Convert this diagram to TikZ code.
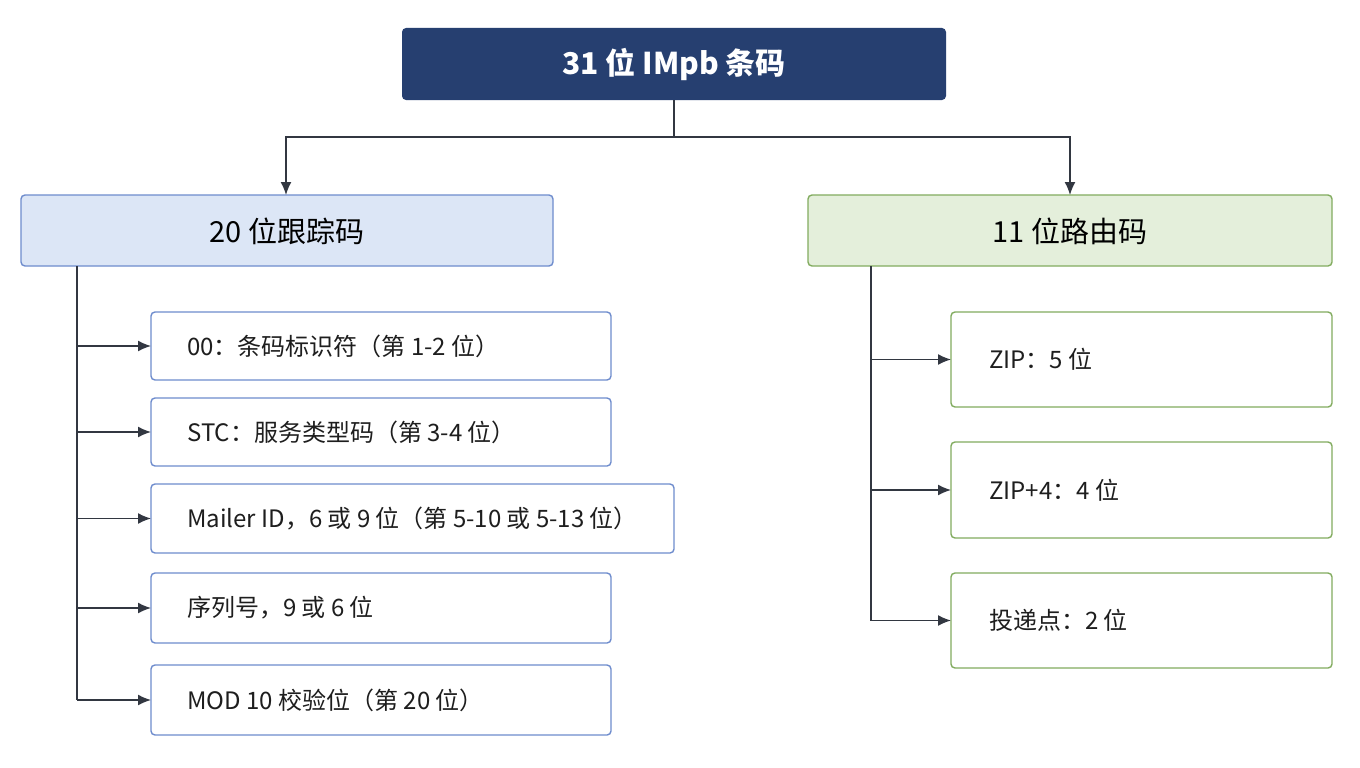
\documentclass[tikz,border=0pt]{standalone}
\usepackage{fontspec}
\usetikzlibrary{arrows.meta}
\setmainfont{Noto Sans CJK SC}
\begin{document}
\begin{tikzpicture}[x=1pt,y=-1pt,
  top/.style={draw=none,fill={rgb,255:red,38;green,63;blue,112},rounded corners=4pt},
  hb/.style={draw={rgb,255:red,110;green,140;blue,205},fill={rgb,255:red,220;green,230;blue,246},line width=1.4pt,rounded corners=4pt},
  hg/.style={draw={rgb,255:red,130;green,172;blue,95},fill={rgb,255:red,228;green,239;blue,219},line width=1.4pt,rounded corners=4pt},
  cb/.style={draw={rgb,255:red,110;green,140;blue,205},fill=white,line width=1.4pt,rounded corners=4pt},
  cg/.style={draw={rgb,255:red,130;green,172;blue,95},fill=white,line width=1.4pt,rounded corners=4pt},
  lbl/.style={anchor=west,inner sep=0pt,font=\fontsize{24}{28}\selectfont,text={rgb,255:red,30;green,30;blue,30}},
  con/.style={draw={rgb,255:red,50;green,55;blue,65},line width=1.5pt},
  arr/.style={con,-{Latex[length=13pt,width=11pt]}}]
\useasboundingbox (0,0) rectangle (1360,768);
\fill[white] (0,0) rectangle (1360,768);
\draw[top] (402,28) rectangle (946,100);
\node[text=white,font=\bfseries\fontsize{30}{34}\selectfont] (t) at (674,64) {31 位 IMpb 条码};
\draw[hb] (21,195) rectangle (553,266);
\node[font=\fontsize{29}{33}\selectfont] (l) at (287,231) {20 位跟踪码};
\draw[hg] (808,195) rectangle (1332,266);
\node[font=\fontsize{29}{33}\selectfont] (r) at (1070,231) {11 位路由码};
\coordinate (tb) at (674,100);
\coordinate (j) at (674,137);
\draw[con] (tb) -- (j);
\draw[arr] (j) -- (286,137) -- (286,195);
\draw[arr] (j) -- (1070,137) -- (1070,195);
\foreach \ya/\yb/\xr/\txt/\n in {312/380/611/00：条码标识符（第 1-2 位）/a,398/466/611/STC：服务类型码（第 3-4 位）/b,484/553/674/Mailer ID，6 或 9 位（第 5-10 或 5-13 位）/c,573/643/611/序列号，9 或 6 位/d,665/735/611/MOD 10 校验位（第 20 位）/e}{
  \draw[cb] (151,\ya) rectangle (\xr,\yb);
  \node[lbl] (\n) at (187,{(\ya+\yb)/2}) {\txt};
  \draw[arr] (77,{(\ya+\yb)/2}) -- (151,{(\ya+\yb)/2});
}
\draw[con] (77,266) -- (77,700);
\foreach \ya/\yb/\txt/\n in {312/407/ZIP：5 位/f,442/538/ZIP+4：4 位/g,573/668/投递点：2 位/h}{
  \draw[cg] (951,\ya) rectangle (1332,\yb);
  \node[lbl] (\n) at (989,{(\ya+\yb)/2}) {\txt};
  \draw[arr] (871,{(\ya+\yb)/2}) -- (951,{(\ya+\yb)/2});
}
\draw[con] (871,266) -- (871,620.5);
\end{tikzpicture}
\end{document}
